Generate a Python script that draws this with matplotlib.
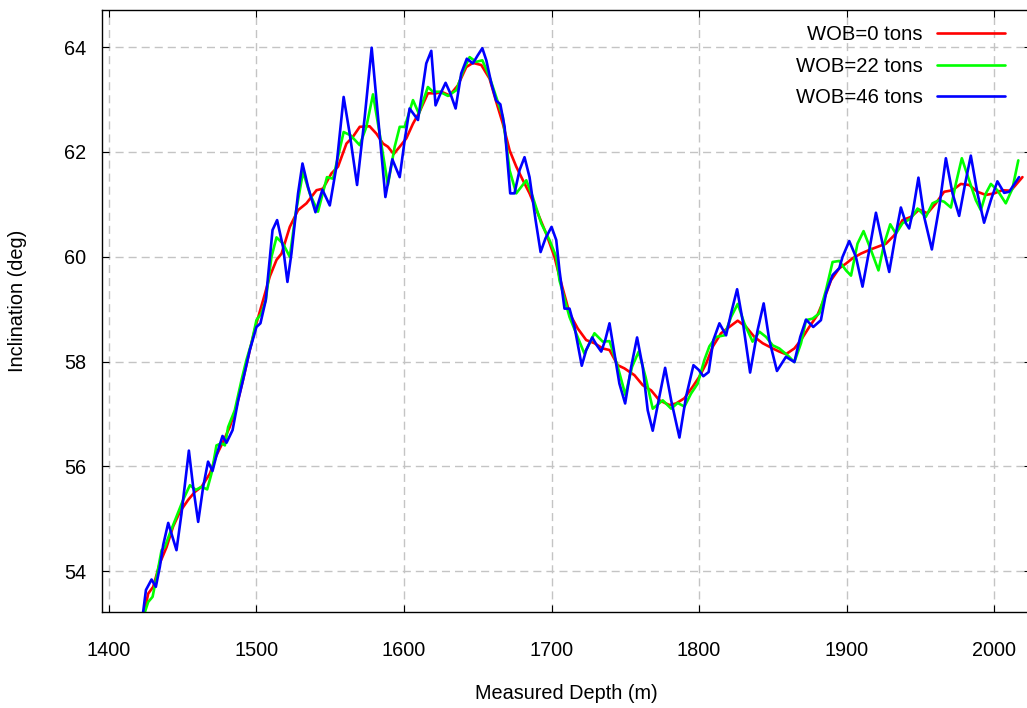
import matplotlib

matplotlib.use("Agg")
import matplotlib.pyplot as plt

plt.rcParams["font.family"] = ["Liberation Sans", "DejaVu Sans"]
plt.rcParams["lines.scale_dashes"] = False

# --- data (depth in m, inclination in deg) ---
depth_0 = [
    1424.4, 1426.6, 1430.0, 1434.5, 1439.1, 1443.5, 1448.1, 1453.7, 1458.2, 1462.8,
    1468.4, 1472.9, 1477.4, 1481.9, 1486.5, 1490.9, 1495.5, 1500.0, 1504.5, 1509.0,
    1513.6, 1517.0, 1522.6, 1528.2, 1533.9, 1540.7, 1545.1, 1550.8, 1555.3, 1561.0,
    1565.4, 1570.0, 1576.7, 1581.3, 1585.8, 1589.1, 1593.0, 1597.1, 1601.6, 1606.1,
    1610.6, 1616.2, 1621.9, 1625.3, 1630.9, 1636.5, 1642.2, 1646.7, 1652.4, 1658.0,
    1662.5, 1667.0, 1671.6, 1676.1, 1680.6, 1685.1, 1690.7, 1696.4, 1702.0, 1705.4,
    1712.2, 1717.8, 1723.5, 1729.1, 1734.7, 1739.3, 1744.9, 1749.4, 1756.2, 1761.8,
    1767.5, 1773.1, 1779.9, 1784.4, 1790.1, 1795.7, 1800.2, 1804.8, 1809.2, 1814.9,
    1820.5, 1826.2, 1831.9, 1837.5, 1843.1, 1849.9, 1854.4, 1858.9, 1864.6, 1869.1,
    1874.7, 1880.3, 1884.9, 1889.4, 1895.0, 1899.6, 1904.0, 1909.7, 1915.4, 1921.0,
    1926.7, 1932.3, 1937.9, 1943.6, 1949.2, 1954.8, 1960.5, 1966.1, 1971.8, 1977.4,
    1983.1, 1988.7, 1994.4, 2000.0, 2005.6, 2011.3, 2019.2,
]
incl_0 = [
    53.26, 53.57, 53.70, 54.15, 54.46, 54.85, 55.13, 55.36, 55.51, 55.61,
    55.86, 56.21, 56.47, 56.75, 57.14, 57.65, 58.22, 58.73, 59.17, 59.62,
    59.94, 60.06, 60.57, 60.89, 61.02, 61.27, 61.30, 61.59, 61.72, 62.16,
    62.29, 62.48, 62.49, 62.35, 62.16, 62.10, 61.96, 62.10, 62.26, 62.54,
    62.77, 63.12, 63.12, 63.15, 63.08, 63.27, 63.62, 63.70, 63.66, 63.40,
    62.96, 62.54, 62.03, 61.72, 61.46, 61.21, 60.83, 60.44, 60.00, 59.62,
    58.92, 58.63, 58.41, 58.35, 58.25, 58.22, 57.93, 57.87, 57.74, 57.55,
    57.45, 57.26, 57.17, 57.20, 57.30, 57.52, 57.71, 57.96, 58.28, 58.54,
    58.66, 58.78, 58.66, 58.47, 58.35, 58.25, 58.19, 58.14, 58.25, 58.41,
    58.66, 58.89, 59.20, 59.55, 59.78, 59.87, 59.97, 60.06, 60.13, 60.19,
    60.25, 60.41, 60.70, 60.76, 60.90, 60.83, 61.02, 61.24, 61.27, 61.39,
    61.37, 61.24, 61.18, 61.21, 61.27, 61.26, 61.52,
]

depth_22 = [
    1424.4, 1426.6, 1429.6, 1432.3, 1435.7, 1437.9, 1441.3, 1445.8, 1450.3, 1454.9,
    1458.9, 1462.8, 1466.6, 1469.5, 1472.9, 1476.3, 1478.6, 1480.8, 1485.3, 1489.9,
    1493.2, 1496.6, 1500.0, 1503.4, 1506.3, 1510.2, 1513.6, 1518.0, 1522.6, 1526.6,
    1531.6, 1536.1, 1541.7, 1547.8, 1551.9, 1555.3, 1559.1, 1563.7, 1570.0, 1574.5,
    1579.0, 1583.5, 1589.1, 1593.7, 1597.1, 1600.5, 1606.1, 1610.1, 1616.2, 1619.6,
    1624.2, 1629.8, 1635.5, 1639.9, 1644.5, 1649.0, 1653.1, 1658.0, 1662.5, 1667.0,
    1671.6, 1676.1, 1682.9, 1687.3, 1693.0, 1698.6, 1703.2, 1705.4, 1712.2, 1716.7,
    1722.3, 1729.1, 1734.7, 1739.3, 1744.9, 1750.1, 1754.6, 1759.1, 1763.7, 1768.6,
    1775.4, 1781.1, 1785.5, 1790.1, 1794.6, 1799.1, 1803.6, 1807.0, 1811.5, 1817.2,
    1821.7, 1826.2, 1830.7, 1836.3, 1840.9, 1845.4, 1849.9, 1854.4, 1860.0, 1864.6,
    1869.1, 1872.5, 1877.0, 1881.5, 1886.0, 1890.5, 1895.0, 1899.6, 1903.0, 1907.4,
    1911.5, 1916.5, 1921.6, 1925.5, 1929.6, 1933.4, 1937.9, 1943.6, 1948.1, 1953.7,
    1958.2, 1962.8, 1966.1, 1970.7, 1974.1, 1978.1, 1983.1, 1987.6, 1991.0, 1994.4,
    1997.8, 2002.2, 2007.9, 2012.4, 2016.4,
]
incl_22 = [
    53.22, 53.41, 53.51, 53.89, 54.40, 54.46, 54.72, 55.04, 55.36, 55.64,
    55.55, 55.61, 55.56, 55.86, 56.40, 56.44, 56.40, 56.75, 57.07, 57.65,
    58.03, 58.35, 58.79, 58.92, 59.17, 60.00, 60.37, 60.25, 60.00, 60.83,
    61.62, 61.21, 60.86, 61.52, 61.49, 61.91, 62.38, 62.32, 62.13, 62.48,
    63.10, 62.35, 61.37, 62.10, 62.48, 62.48, 62.99, 62.73, 63.24, 63.15,
    63.15, 63.07, 63.18, 63.53, 63.81, 63.72, 63.75, 63.43, 63.05, 62.67,
    61.65, 61.21, 61.46, 61.14, 60.64, 60.32, 60.00, 59.55, 58.85, 58.54,
    58.15, 58.54, 58.38, 58.39, 57.90, 57.36, 57.90, 58.19, 57.71, 57.10,
    57.26, 57.10, 57.21, 57.14, 57.39, 57.58, 58.03, 58.29, 58.47, 58.50,
    58.85, 59.10, 58.73, 58.38, 58.57, 58.47, 58.31, 58.25, 58.12, 57.99,
    58.35, 58.79, 58.82, 58.92, 59.36, 59.90, 59.92, 59.74, 59.64, 60.25,
    60.49, 60.13, 59.74, 60.25, 60.62, 60.44, 60.64, 60.73, 60.92, 60.76,
    61.02, 61.08, 61.05, 60.94, 61.40, 61.88, 61.46, 61.08, 60.89, 61.21,
    61.39, 61.27, 61.02, 61.30, 61.84,
]

depth_46 = [
    1423.2, 1425.1, 1428.9, 1431.8, 1434.5, 1436.8, 1440.2, 1445.8, 1449.2, 1454.2,
    1457.1, 1460.5, 1463.9, 1467.2, 1470.2, 1472.9, 1477.0, 1479.7, 1483.8, 1487.6,
    1490.9, 1495.5, 1500.0, 1502.7, 1506.3, 1510.9, 1514.0, 1518.0, 1521.0, 1523.7,
    1528.2, 1531.2, 1535.0, 1540.0, 1544.7, 1549.7, 1554.2, 1559.1, 1563.2, 1568.2,
    1573.4, 1578.1, 1582.4, 1587.4, 1592.1, 1597.1, 1600.5, 1603.8, 1609.5, 1615.1,
    1618.5, 1621.4, 1624.2, 1628.2, 1631.4, 1635.0, 1638.8, 1642.6, 1646.7, 1650.1,
    1653.1, 1655.8, 1659.2, 1662.5, 1665.3, 1668.2, 1672.0, 1674.9, 1678.3, 1681.7,
    1685.1, 1689.2, 1692.6, 1695.9, 1700.0, 1703.2, 1705.4, 1708.8, 1712.2, 1715.6,
    1720.5, 1723.5, 1727.6, 1730.7, 1733.7, 1736.4, 1739.3, 1742.7, 1746.0, 1749.9,
    1754.0, 1758.0, 1761.8, 1765.2, 1768.6, 1773.1, 1777.0, 1781.1, 1786.7, 1791.2,
    1796.2, 1799.8, 1802.9, 1806.5, 1809.7, 1813.8, 1818.3, 1821.7, 1825.8, 1829.5,
    1834.6, 1839.7, 1843.8, 1847.6, 1852.8, 1858.9, 1864.6, 1868.6, 1872.5, 1877.4,
    1882.6, 1886.0, 1890.5, 1895.0, 1897.3, 1901.8, 1906.3, 1910.8, 1915.4, 1919.9,
    1924.4, 1928.9, 1933.0, 1936.8, 1940.2, 1942.4, 1945.1, 1948.7, 1952.6, 1957.8,
    1962.8, 1967.3, 1971.8, 1976.3, 1980.4, 1984.2, 1988.7, 1993.2, 1997.8, 2002.2,
    2006.8, 2010.2, 2016.9,
]
incl_46 = [
    53.22, 53.64, 53.84, 53.70, 54.08, 54.50, 54.92, 54.40, 55.10, 56.30,
    55.61, 54.94, 55.61, 56.09, 55.91, 56.21, 56.58, 56.45, 56.69, 57.26,
    57.65, 58.22, 58.66, 58.73, 59.17, 60.51, 60.70, 60.19, 59.52, 60.06,
    61.21, 61.78, 61.33, 60.85, 61.28, 60.98, 61.72, 63.05, 62.35, 61.37,
    62.67, 63.99, 62.67, 61.14, 61.86, 61.52, 62.23, 62.83, 62.61, 63.69,
    63.93, 62.89, 63.08, 63.32, 63.12, 62.83, 63.50, 63.78, 63.69, 63.85,
    63.98, 63.75, 63.31, 62.98, 62.91, 62.48, 61.21, 61.21, 61.65, 61.90,
    61.52, 60.70, 60.09, 60.35, 60.57, 60.32, 59.74, 59.01, 59.01, 58.66,
    57.92, 58.22, 58.46, 58.31, 58.19, 58.41, 58.73, 58.15, 57.58, 57.20,
    57.90, 58.46, 57.90, 57.07, 56.68, 57.33, 57.88, 57.26, 56.55, 57.33,
    57.93, 57.84, 57.72, 57.80, 58.41, 58.73, 58.50, 58.92, 59.38, 58.79,
    57.79, 58.60, 59.11, 58.41, 57.82, 58.09, 57.99, 58.47, 58.80, 58.66,
    58.79, 59.30, 59.65, 59.78, 60.00, 60.30, 60.00, 59.43, 60.13, 60.84,
    60.25, 59.71, 60.38, 60.94, 60.64, 60.54, 60.89, 61.51, 60.76, 60.14,
    60.95, 61.88, 61.21, 60.78, 61.40, 61.93, 61.21, 60.65, 61.08, 61.44,
    61.22, 61.24, 61.52,
]

series = [
    ("WOB=0 tons", depth_0, incl_0, "#ff0000"),
    ("WOB=22 tons", depth_22, incl_22, "#00ff00"),
    ("WOB=46 tons", depth_46, incl_46, "#0000ff"),
]

x_ticks = [1400, 1500, 1600, 1700, 1800, 1900, 2000]
y_ticks = [54, 56, 58, 60, 62, 64]


def main() -> None:
    fig = plt.figure(figsize=(10.27, 7.08), dpi=100)
    # plot area runs slightly past the right edge, as in the reference
    ax = fig.add_axes([0.0993, 0.1356, 0.9046, 0.8503])

    for label, x, y, color in series:
        ax.plot(x, y, color=color, lw=1.9, label=label,
                solid_joinstyle="round", solid_capstyle="round")

    ax.set_xlim(1395.3, 2025.0)
    ax.set_ylim(53.22, 64.71)
    ax.set_xticks(x_ticks)
    ax.set_yticks(y_ticks)

    ax.grid(True, color="#c4c4c4", lw=1.0, linestyle=(0, (5.8, 3.6)))
    ax.set_axisbelow(True)

    ax.tick_params(
        direction="in", length=5, width=0.8, labelsize=14.3,
        top=True, right=True, colors="black",
    )
    ax.tick_params(axis="x", pad=21)
    ax.tick_params(axis="y", pad=11.5)
    for side in ax.spines.values():
        side.set_linewidth(1.0)

    ax.set_xlabel("Measured Depth (m)", fontsize=14.3)
    ax.xaxis.label.set_va("center")
    ax.xaxis.set_label_coords(0.5, -0.136)
    ax.set_ylabel("Inclination (deg)", fontsize=14.3)
    ax.yaxis.label.set_va("center")
    ax.yaxis.set_label_coords(-0.0904, 0.517)

    ax.legend(
        loc="upper right",
        bbox_to_anchor=(1005 / 1027, 1 - 25.5 / 708),
        bbox_transform=fig.transFigure,
        frameon=False,
        markerfirst=False,
        fontsize=14.6,
        handlelength=3.35,
        handletextpad=0.72,
        labelspacing=0.6,
        borderpad=0,
        borderaxespad=0,
    )

    fig.savefig("out.png", dpi=100)
    plt.close(fig)


if __name__ == "__main__":
    main()
